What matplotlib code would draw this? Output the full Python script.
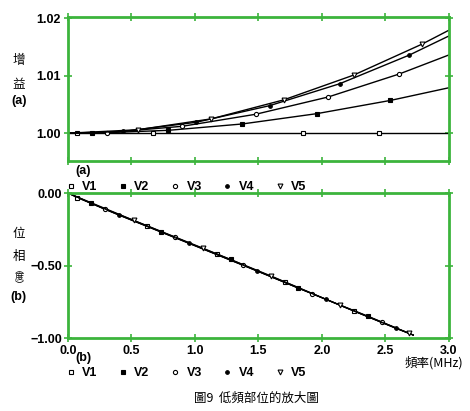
import matplotlib.pyplot as plt
from matplotlib.lines import Line2D

# 增益 (a): 各曲線的頻率點與數值 (端點 + 標記點)
gain_f1 = [0.0, 0.07, 0.67, 1.85, 2.45, 3.0]
gain_v1 = [1.0000, 1.0000, 1.0000, 1.0000, 1.0000, 1.0000]
gain_f2 = [0.0, 0.19, 0.79, 1.37, 1.96, 2.54, 3.0]
gain_v2 = [1.0000, 1.0000, 1.0005, 1.0016, 1.0034, 1.0057, 1.0079]
gain_f3 = [0.0, 0.31, 0.90, 1.48, 2.05, 2.61, 3.0]
gain_v3 = [1.0000, 1.0001, 1.0012, 1.0033, 1.0063, 1.0103, 1.0136]
gain_f4 = [0.0, 0.43, 1.01, 1.59, 2.14, 2.69, 3.0]
gain_v4 = [1.0000, 1.0003, 1.0019, 1.0048, 1.0086, 1.0136, 1.0169]
gain_f5 = [0.0, 0.55, 1.13, 1.70, 2.25, 2.79, 3.0]
gain_v5 = [1.0000, 1.0006, 1.0025, 1.0058, 1.0101, 1.0155, 1.0179]

# 相位 (b)
phase_f1 = [0.0, 0.07, 0.62, 1.17, 1.71, 2.25, 2.72]
phase_v1 = [0.0, -0.032, -0.225, -0.423, -0.614, -0.814, -0.980]
phase_f2 = [0.0, 0.18, 0.73, 1.28, 1.81, 2.36, 2.72]
phase_v2 = [0.0, -0.071, -0.267, -0.458, -0.655, -0.848, -0.980]
phase_f3 = [0.0, 0.29, 0.84, 1.38, 1.92, 2.47, 2.72]
phase_v3 = [0.0, -0.113, -0.306, -0.499, -0.694, -0.892, -0.980]
phase_f4 = [0.0, 0.40, 0.95, 1.49, 2.03, 2.58, 2.72]
phase_v4 = [0.0, -0.152, -0.347, -0.538, -0.733, -0.933, -0.980]
phase_f5 = [0.0, 0.52, 1.06, 1.60, 2.14, 2.69, 2.72]
phase_v5 = [0.0, -0.189, -0.379, -0.572, -0.772, -0.968, -0.980]

labels = ['V1', 'V2', 'V3', 'V4', 'V5']
x_ticks = [0.0, 0.5, 1.0, 1.5, 2.0, 2.5, 3.0]
gain_ticks = [1.00, 1.01, 1.02]
phase_ticks = [0.00, -0.50, -1.00]

green = '#3cb43c'
lat = ['Liberation Sans', 'DejaVu Sans']
cjk = ['Noto Sans CJK TC', 'DejaVu Sans']

# 標記樣式: (marker, 填色, 大小)
styles = [('s', 'white', 3.5), ('s', 'black', 3.5), ('o', 'white', 3.0),
          ('o', 'black', 2.6), ('v', 'white', 3.5)]

fig = plt.figure(figsize=(4.7, 4.11), dpi=100)
ax1 = fig.add_axes([0.1447, 0.6083, 0.8103, 0.3503])
ax2 = fig.add_axes([0.1447, 0.1776, 0.8103, 0.3528])

gain_data = [(gain_f1, gain_v1), (gain_f2, gain_v2), (gain_f3, gain_v3),
             (gain_f4, gain_v4), (gain_f5, gain_v5)]
phase_data = [(phase_f1, phase_v1), (phase_f2, phase_v2), (phase_f3, phase_v3),
              (phase_f4, phase_v4), (phase_f5, phase_v5)]

for (f, v), (m, fc, ms) in zip(gain_data, styles):
    ax1.plot(f, v, color='black', linewidth=1.0, marker=m, markersize=ms,
             markerfacecolor=fc, markeredgecolor='black', markeredgewidth=0.8,
             markevery=slice(1, -1))
for (f, v), (m, fc, ms) in zip(phase_data, styles):
    ax2.plot(f, v, color='black', linewidth=0.8, marker=m, markersize=ms,
             markerfacecolor=fc, markeredgecolor='black', markeredgewidth=0.8,
             markevery=slice(1, -1))

ax1.set_xlim(0, 3.0)
ax1.set_ylim(0.99517, 1.0202)
ax2.set_xlim(0, 3.0)
ax2.set_ylim(-1.0, 0.0)

for ax, yt in [(ax1, gain_ticks), (ax2, phase_ticks)]:
    for s in ax.spines.values():
        s.set_color(green)
        s.set_linewidth(2.0)
    ax.set_xticks(x_ticks)
    ax.set_yticks(yt)
    ax.set_yticklabels(['{:.2f}'.format(t).replace('-', '\u2212') for t in yt],
                       family=lat, fontsize=9, fontweight='bold')
    ax.tick_params(direction='inout', length=6, width=1.2, color=green,
                   top=True, right=True, pad=2)

ax1.tick_params(labelbottom=False)
ax2.set_xticklabels(['{:.1f}'.format(t) for t in x_ticks], family=lat,
                    fontsize=9, fontweight='bold')
ax2.tick_params(axis='y', pad=1)

# 左側縱向標題
fig.text(0.040, 0.854, '增', family=cjk, fontsize=9, ha='center', va='center')
fig.text(0.040, 0.795, '益', family=cjk, fontsize=9, ha='center', va='center')
fig.text(0.040, 0.755, '(a)', family=lat, fontsize=9, fontweight='bold',
         ha='center', va='center')
fig.text(0.040, 0.433, '位', family=cjk, fontsize=9, ha='center', va='center')
fig.text(0.040, 0.375, '相', family=cjk, fontsize=9, ha='center', va='center')
fig.text(0.040, 0.323, '\ufe35\n度\n\ufe36', family=cjk, fontsize=6.5, ha='center',
         va='center', ma='center', linespacing=0.8)
fig.text(0.040, 0.277, '(b)', family=lat, fontsize=9, fontweight='bold',
         ha='center', va='center')

# 圖例
handles = [Line2D([], [], linestyle='none', marker=m, markersize=ms,
                  markerfacecolor=fc, markeredgecolor='black', markeredgewidth=0.8)
           for m, fc, ms in styles]
for ytop, tag in [(0.575, '(a)'), (0.122, '(b)')]:
    fig.text(0.160, ytop + 0.008, tag, family=lat, fontsize=9, fontweight='bold',
             ha='left', va='center')
    fig.legend(handles, labels, loc='center left', bbox_to_anchor=(0.140, ytop - 0.030),
               ncol=5, frameon=False, handlelength=0.8, handletextpad=0.5,
               columnspacing=1.65, prop={'family': lat, 'size': 9, 'weight': 'bold'},
               borderpad=0, borderaxespad=0)

fig.text(0.985, 0.117, '頻率(MHz)', family=cjk, fontsize=9, ha='right', va='center')
fig.text(0.545, 0.032, '圖9  低頻部位的放大圖', family=cjk, fontsize=9,
         ha='center', va='center')

fig.savefig('out.png', dpi=100, facecolor='white')
